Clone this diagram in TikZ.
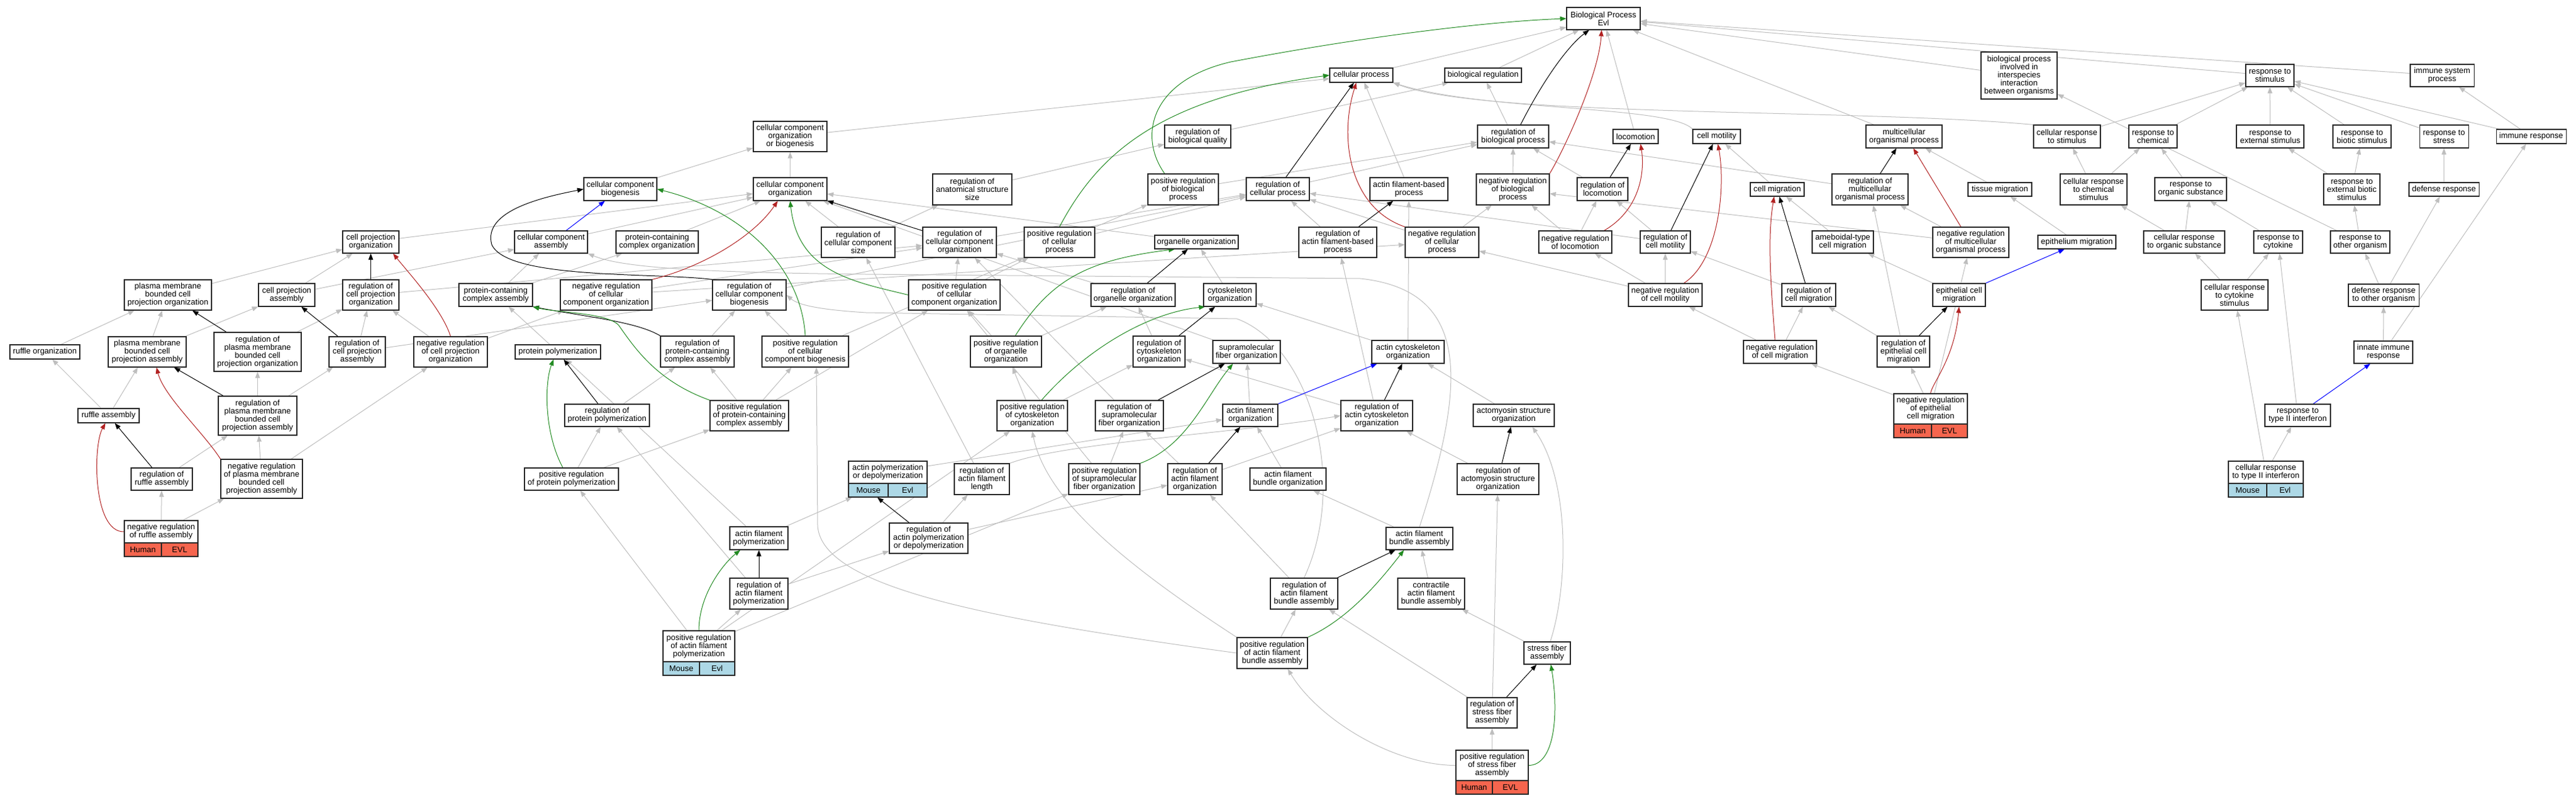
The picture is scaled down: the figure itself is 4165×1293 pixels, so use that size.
\documentclass[tikz,border=0pt]{standalone}
\usepackage{fontspec}
\setmainfont{Liberation Sans}
\usetikzlibrary{arrows.meta,calc}
\pgfdeclarelayer{edges}
\pgfsetlayers{edges,main}
\definecolor{edgegray}{RGB}{190,190,190}
\definecolor{posgreen}{RGB}{34,139,34}
\definecolor{negred}{RGB}{178,34,34}
\definecolor{partblue}{RGB}{0,0,255}
\definecolor{humanred}{RGB}{246,101,78}
\definecolor{mouseblue}{RGB}{173,216,230}
\newcommand{\gn}[6]{\node[gobox,minimum width=#4pt,minimum height=#5pt] (#1) at (#2,#3) {#6};}
\newcommand{\spcell}[6]{\node[cellbox,fill=#6,minimum width=#4pt] (#1) at (#2,#3) {#5};}
\begin{document}
\begin{tikzpicture}[x=1pt,y=-1pt,
  gobox/.style={draw=black!85,line width=1.1pt,fill=white,inner sep=1pt,align=center,font=\fontsize{13}{13}\selectfont},
  cellbox/.style={draw=black!85,line width=1.1pt,inner sep=1pt,minimum height=22pt,font=\fontsize{13}{13}\selectfont},
  isaE/.style={draw=edgegray,line width=1pt,-{Triangle[length=10pt,width=7.5pt]}},
  regE/.style={isaE,draw=black},
  posE/.style={isaE,draw=posgreen},
  negE/.style={isaE,draw=negred},
  partE/.style={isaE,draw=partblue}]
\useasboundingbox (0,0) rectangle (4165,1293);
\begin{pgfonlayer}{edges}
\fill[white] (0,0) rectangle (4165,1293);
\end{pgfonlayer}
% ---------------- nodes ----------------
\gn{cpo}{599.5}{391}{91}{36}{cell projection\\organization}
\gn{pmbcpo}{271.5}{476.5}{141}{49}{plasma membrane\\bounded cell\\projection organization}
\gn{cpa}{463.5}{476.5}{91}{37}{cell projection\\assembly}
\gn{regcpo}{599.5}{476.5}{91}{49}{regulation of\\cell projection\\organization}
\gn{ruforg}{72.5}{568.5}{113}{23}{ruffle organization}
\gn{pmbcpa}{238}{568.5}{126}{49}{plasma membrane\\bounded cell\\projection assembly}
\gn{regpmbcpo}{416.5}{568.5}{141}{63}{regulation of\\plasma membrane\\bounded cell\\projection organization}
\gn{regcpa}{577.5}{568.5}{91}{49}{regulation of\\cell projection\\assembly}
\gn{negregcpo}{728.5}{568.5}{119}{49}{negative regulation\\of cell projection\\organization}
\gn{rufasm}{175.5}{671.5}{99}{23}{ruffle assembly}
\gn{regpmbcpa}{416.5}{671.5}{127}{63}{regulation of\\plasma membrane\\bounded cell\\projection assembly}
\gn{regruf}{261.5}{774}{99}{36}{regulation of\\ruffle assembly}
\gn{negregpmbcpa}{423}{773.5}{132}{63}{negative regulation\\of plasma membrane\\bounded cell\\projection assembly}
\gn{negregruf}{260.5}{859}{119}{36}{negative regulation\\of ruffle assembly}
\spcell{negrufH}{231}{888}{60}{Human}{humanred}
\spcell{negrufE}{290.5}{888}{59}{EVL}{humanred}
\gn{ccob}{1277.5}{220.5}{119}{49}{cellular component\\organization\\or biogenesis}
\gn{ccb}{1003}{305.5}{118}{37}{cellular component\\biogenesis}
\gn{cco}{1277.5}{305.5}{119}{37}{cellular component\\organization}
\gn{cca}{891}{391}{118}{36}{cellular component\\assembly}
\gn{pcco}{1062.5}{391}{133}{36}{protein-containing\\complex organization}
\gn{regccs}{1387.5}{391.5}{119}{49}{regulation of\\cellular component\\size}
\gn{pcca}{801.5}{476.5}{119}{37}{protein-containing\\complex assembly}
\gn{negregcco}{980}{476.5}{148}{49}{negative regulation\\of cellular\\component organization}
\gn{regccb}{1211.5}{476.5}{119}{49}{regulation of\\cellular component\\biogenesis}
\gn{protpoly}{902}{568.5}{138}{23}{protein polymerization}
\gn{regpcca}{1127.5}{568}{119}{50}{regulation of\\protein-containing\\complex assembly}
\gn{posregccb}{1302}{568}{140}{50}{positive regulation\\of cellular\\component biogenesis}
\gn{regprotpoly}{981.5}{671}{137}{36}{regulation of\\protein polymerization}
\gn{posregpcca}{1211.5}{671.5}{127}{49}{positive regulation\\of protein-containing\\complex assembly}
\gn{posregprotpoly}{924}{774}{152}{36}{positive regulation\\of protein polymerization}
\gn{apd}{1435.5}{763}{127}{36}{actin polymerization\\or depolymerization}
\spcell{apdM}{1404}{792}{64}{Mouse}{mouseblue}
\spcell{apdE}{1467.5}{792}{63}{Evl}{mouseblue}
\gn{afpoly}{1227}{869.5}{94}{37}{actin filament\\polymerization}
\gn{regbq}{1936.5}{220.5}{107}{37}{regulation of\\biological quality}
\gn{regass}{1572}{306}{128}{50}{regulation of\\anatomical structure\\size}
\gn{posregbp}{1913}{306}{114}{50}{positive regulation\\of biological\\process}
\gn{regcp}{2066}{305.5}{102}{37}{regulation of\\cellular process}
\gn{regcco}{1551.5}{391.5}{119}{49}{regulation of\\cellular component\\organization}
\gn{posregcp}{1713}{391.5}{114}{49}{positive regulation\\of cellular\\process}
\gn{orgorg}{1934.5}{391}{135}{22}{organelle organization}
\gn{regafbp}{2163}{391.5}{126}{49}{regulation of\\actin filament-based\\process}
\gn{posregcco}{1543}{476.5}{148}{49}{positive regulation\\of cellular\\component organization}
\gn{regorgorg}{1832}{476.5}{136}{37}{regulation of\\organelle organization}
\gn{cytoorg}{1988.5}{476.5}{85}{37}{cytoskeleton\\organization}
\gn{posregorgorg}{1626.5}{568}{115}{50}{positive regulation\\of organelle\\organization}
\gn{regcytoorg}{1874}{568}{84}{50}{regulation of\\cytoskeleton\\organization}
\gn{supfib}{2015.5}{568.5}{109}{37}{supramolecular\\fiber organization}
\gn{posregcytoorg}{1669}{671.5}{114}{49}{positive regulation\\of cytoskeleton\\organization}
\gn{regsupfib}{1826}{671.5}{110}{49}{regulation of\\supramolecular\\fiber organization}
\gn{afo}{2021.5}{671}{89}{36}{actin filament\\organization}
\gn{regafl}{1587.5}{774}{89}{50}{regulation of\\actin filament\\length}
\gn{posregsupfib}{1785.5}{774}{115}{50}{positive regulation\\of supramolecular\\fiber organization}
\gn{regafo}{1932}{774}{88}{50}{regulation of\\actin filament\\organization}
\gn{afbo}{2082.5}{774}{123}{36}{actin filament\\bundle organization}
\gn{regapd}{1501.5}{869.5}{127}{49}{regulation of\\actin polymerization\\or depolymerization}
\gn{regafpoly}{1227}{959}{94}{50}{regulation of\\actin filament\\polymerization}
\gn{posregafpoly}{1130}{1044}{116}{50}{positive regulation\\of actin filament\\polymerization}
\spcell{pafpM}{1101.5}{1080}{59}{Mouse}{mouseblue}
\spcell{pafpE}{1159.5}{1080}{57}{Evl}{mouseblue}
\gn{regafba}{2108.5}{959}{109}{50}{regulation of\\actin filament\\bundle assembly}
\gn{contractile}{2314}{959}{108}{50}{contractile\\actin filament\\bundle assembly}
\gn{posregafba}{2057}{1055}{114}{50}{positive regulation\\of actin filament\\bundle assembly}
\gn{afba}{2295}{870}{108}{36}{actin filament\\bundle assembly}
\gn{SFA}{2501.5}{1055}{75}{36}{stress fiber\\assembly}
\gn{regSFA}{2412.5}{1151.5}{81}{49}{regulation of\\stress fiber\\assembly}
\gn{PRSFA}{2412.5}{1236.5}{117}{49}{positive regulation\\of stress fiber\\assembly}
\spcell{prsfaH}{2383.5}{1272}{59}{Human}{humanred}
\spcell{prsfaE}{2442}{1272}{58}{EVL}{humanred}
\gn{bp}{2592.5}{30}{119}{36}{Biological Process\\Evl}
\gn{cellproc}{2201}{121.5}{102}{23}{cellular process}
\gn{bioreg}{2398}{121.5}{124}{23}{biological regulation}
\gn{regbp}{2446.5}{220.5}{115}{37}{regulation of\\biological process}
\gn{loco}{2644.5}{220.5}{73}{23}{locomotion}
\gn{cellmot}{2775.5}{220.5}{77}{23}{cell motility}
\gn{afbp}{2278}{305.5}{126}{37}{actin filament-based\\process}
\gn{negregbp}{2446}{306}{118}{50}{negative regulation\\of biological\\process}
\gn{regloco}{2591}{305.5}{82}{37}{regulation of\\locomotion}
\gn{negregcp}{2331.5}{391.5}{119}{49}{negative regulation\\of cellular\\process}
\gn{negregloco}{2547}{391}{118}{36}{negative regulation\\of locomotion}
\gn{regcellmot}{2692.5}{391}{81}{36}{regulation of\\cell motility}
\gn{negregcellmot}{2692.5}{476.5}{119}{37}{negative regulation\\of cell motility}
\gn{actincyto}{2276.5}{568.5}{117}{37}{actin cytoskeleton\\organization}
\gn{regactincyto}{2226}{671.5}{116}{49}{regulation of\\actin cytoskeleton\\organization}
\gn{actomyosin}{2447.5}{671}{131}{36}{actomyosin structure\\organization}
\gn{regactomyosin}{2422}{774}{132}{50}{regulation of\\actomyosin structure\\organization}
\gn{bpinter}{3264.5}{122}{123}{76}{biological process\\involved in\\interspecies\\interaction\\between organisms}
\gn{multi}{3078.5}{220.5}{123}{37}{multicellular\\organismal process}
\gn{crs}{3342}{220.5}{108}{37}{cellular response\\to stimulus}
\gn{rchem}{3481}{220.5}{78}{37}{response to\\chemical}
\gn{cellmig}{2873.5}{306}{87}{22}{cell migration}
\gn{regmulti}{3023.5}{306}{123}{50}{regulation of\\multicellular\\organismal process}
\gn{tissuemig}{3233.5}{306}{103}{22}{tissue migration}
\gn{crcs}{3385}{306}{108}{50}{cellular response\\to chemical\\stimulus}
\gn{ros}{3542}{305.5}{116}{37}{response to\\organic substance}
\gn{ameboid}{2979.5}{391}{99}{36}{ameboidal-type\\cell migration}
\gn{negregmulti}{3186.5}{391.5}{123}{49}{negative regulation\\of multicellular\\organismal process}
\gn{epimig}{3358}{391}{126}{22}{epithelium migration}
\gn{cros}{3531.5}{391}{131}{36}{cellular response\\to organic substance}
\gn{rstim}{3670}{122}{78}{36}{response to\\stimulus}
\gn{isp}{3948.5}{122}{103}{36}{immune system\\process}
\gn{rext}{3670.5}{220.5}{109}{37}{response to\\external stimulus}
\gn{rbiotic}{3819}{220.5}{94}{37}{response to\\biotic stimulus}
\gn{rstress}{3951.5}{220.5}{79}{37}{response to\\stress}
\gn{immresp}{4092.5}{220.5}{113}{23}{immune response}
\gn{rextbiotic}{3802.5}{306}{91}{50}{response to\\external biotic\\stimulus}
\gn{defresp}{3951.5}{306}{113}{22}{defense response}
\gn{rcytokine}{3683.5}{391}{79}{36}{response to\\cytokine}
\gn{roo}{3816}{391}{96}{36}{response to\\other organism}
\gn{regcellmig}{2924.5}{476.5}{87}{37}{regulation of\\cell migration}
\gn{epicellmig}{3167.5}{476.5}{85}{37}{epithelial cell\\migration}
\gn{negregcellmig}{2878}{568.5}{118}{37}{negative regulation\\of cell migration}
\gn{regepicellmig}{3077.5}{568}{85}{50}{regulation of\\epithelial cell\\migration}
\gn{negregepicellmig}{3121.5}{660.5}{119}{49}{negative regulation\\of epithelial\\cell migration}
\spcell{nrecmH}{3092.5}{696}{61}{Human}{humanred}
\spcell{nrecmE}{3152}{696}{58}{EVL}{humanred}
\gn{crcytokine}{3613}{476.5}{108}{49}{cellular response\\to cytokine\\stimulus}
\gn{rt2ifn}{3715}{671}{106}{36}{response to\\type II interferon}
\gn{crt2ifn}{3663.5}{763}{121}{36}{cellular response\\to type II interferon}
\spcell{crtM}{3634}{792}{62}{Mouse}{mouseblue}
\spcell{crtE}{3694.5}{792}{59}{Evl}{mouseblue}
\gn{dr2oo}{3854}{477}{114}{36}{defense response\\to other organism}
\gn{innate}{3853.5}{569}{95}{36}{innate immune\\response}
% ---------------- edges ----------------
\begin{pgfonlayer}{edges}
\foreach \a/\b in {cellproc/bp, bioreg/bp, loco/bp, multi/bp, bpinter/bp, rstim/bp, isp/bp,
 ccob/cellproc, afbp/cellproc,
 regbq/bioreg, regbp/bioreg,
 regcp/regbp, posregbp/regbp, negregbp/regbp, regloco/regbp, regmulti/regbp,
 cellmig/cellmot, ccb/ccob, cco/ccob,
 cca/cco, pcco/cco, orgorg/cco, regccs/cco, cpo/cco, supfib/cco,
 regccs/regass, regass/regbq,
 pmbcpo/cpo, cpa/cpo, cpa/cca, regcpo/regcco,
 pmbcpa/pmbcpo, pmbcpa/cpa, ruforg/pmbcpo,
 regpmbcpo/regcpo, regcpa/regcpo, regcpa/regccb,
 negregcpo/regcpo, negregcpo/negregcco,
 rufasm/ruforg, rufasm/pmbcpa,
 regpmbcpa/regpmbcpo, regpmbcpa/regcpa, regruf/regpmbcpa,
 negregpmbcpa/regpmbcpa, negregpmbcpa/negregcpo,
 negregruf/regruf, negregruf/negregpmbcpa,
 pcca/cca, pcca/pcco, protpoly/pcca, regpcca/regccb,
 negregcco/regcco, negregcco/negregcp, regccb/regcp,
 posregccb/regccb, posregccb/posregcp,
 posregpcca/regpcca, posregpcca/posregccb, posregpcca/posregcco,
 regprotpoly/regpcca, posregprotpoly/regprotpoly, posregprotpoly/posregpcca,
 afpoly/protpoly, afpoly/apdM, apd/afo,
 regafpoly/regapd, regafpoly/regprotpoly,
 posregafpoly/regafpoly, posregafpoly/posregprotpoly, posregafpoly/posregsupfib, posregafpoly/posregcytoorg,
 regapd/regafl, regapd/regafo, regafl/regccs,
 regafo/regactincyto, regafo/regsupfib,
 posregsupfib/regsupfib, posregsupfib/posregcco, regsupfib/regcco,
 posregcytoorg/regcytoorg, posregcytoorg/posregorgorg, regcytoorg/regorgorg,
 posregorgorg/regorgorg, posregorgorg/posregcco, regorgorg/regcco,
 cytoorg/orgorg, afo/supfib, afbo/afo,
 actincyto/cytoorg, actincyto/afbp,
 regactincyto/regafbp, regactincyto/regcytoorg,
 actomyosin/actincyto, regactomyosin/regactincyto,
 afba/afbo, regafba/regafo, posregafba/regafba,
 contractile/afba, SFA/contractile,
 regSFA/regactomyosin, regSFA/regafba, PRSFA/regSFA,
 regafbp/regcp, negregcp/regcp, negregcp/negregbp,
 posregcp/regcp, posregcp/posregbp, regcco/regcp,
 posregcco/regcco, posregcco/posregcp,
 negregloco/regloco, negregloco/negregbp,
 regcellmot/regloco, regcellmot/regcp,
 negregcellmot/regcellmot, negregcellmot/negregloco, negregcellmot/negregcp,
 regcellmig/regcellmot, negregcellmig/regcellmig, negregcellmig/negregcellmot,
 ameboid/cellmig, epicellmig/ameboid,
 regepicellmig/regcellmig, regepicellmig/regmulti,
 negregepicellmig/regepicellmig, negregepicellmig/negregcellmig, negregepicellmig/negregmulti,
 epimig/tissuemig, tissuemig/multi,
 negregmulti/regmulti, negregmulti/negregbp,
 crs/rstim, crcs/crs, crcs/rchem, rchem/rstim, ros/rchem, cros/ros, cros/crcs,
 rcytokine/ros, crcytokine/cros, crcytokine/rcytokine, rt2ifn/rcytokine,
 crt2ifn/rt2ifn, crt2ifn/crcytokine,
 rext/rstim, rbiotic/rstim, rstress/rstim, immresp/rstim, immresp/isp,
 rextbiotic/rext, rextbiotic/rbiotic, roo/rextbiotic, roo/bpinter,
 defresp/rstress, dr2oo/defresp, dr2oo/roo, innate/immresp, innate/dr2oo}
 {\draw[isaE] (\a) -- (\b);}
% long gray curves
\draw[isaE] (crs.north west) .. controls (3000,175) and (2400,190) .. (cellproc.south east);
\draw[isaE] (cellmot.north west) .. controls (2700,170) and (2400,180) .. (cellproc.south east);
\draw[isaE] (afba.north) .. controls (2370,620) and (2380,470) .. (2200,450) -- (1400,443) .. controls (1100,440) and (1000,430) .. (cca.south east);
\draw[isaE] (regafba.north) .. controls (2180,780) and (2120,560) .. (2000,515) -- (1400,505) .. controls (1320,500) and (1290,492) .. (regccb.east);
\draw[isaE] (posregafba.west) .. controls (1600,1000) and (1330,950) .. (1322,850) -- ($(posregccb.south)+(18,0)$);
\draw[isaE] (posregafba.north west) .. controls (1800,900) and (1690,800) .. (posregcytoorg.south);
\draw[isaE] (regafl.north east) .. controls (1720,715) and (2000,700) .. (regactincyto.west);
\draw[isaE] ($(SFA.north)+(5,0)$) .. controls (2535,950) and (2540,780) .. ($(actomyosin.south)+(30,0)$);
\draw[isaE] (PRSFA.west) .. controls (2250,1236) and (2130,1160) .. ($(posregafba.south)+(25,0)$);
% black (regulates)
\foreach \a/\b in {regloco/loco, regcellmot/cellmot, regcco/cco, regcpo/cpo, regpmbcpo/pmbcpo,
 regcpa/cpa, regpmbcpa/pmbcpa, regruf/rufasm, regprotpoly/protpoly, regafpoly/afpoly, regapd/apdM,
 regafo/afo, regsupfib/supfib, regcytoorg/cytoorg, regorgorg/orgorg, regactincyto/actincyto,
 regactomyosin/actomyosin, regafba/afba, regSFA/SFA, regafbp/afbp, regcellmig/cellmig,
 regepicellmig/epicellmig, regmulti/multi}
 {\draw[regE] (\a) -- (\b);}
\draw[regE] ($(regbp.north)+(12,0)$) .. controls (2500,120) and (2540,70) .. ($(bp.south)+(-23,0)$);
\draw[regE] ($(regcp.north)+(13,0)$) -- ($(cellproc.south)+(-12,0)$);
\draw[regE] (regccb.north west) .. controls (1060,440) and (820,452) .. (795,395) .. controls (780,340) and (880,318) .. (ccb.west);
\draw[regE] (regpcca.north west) .. controls (1030,520) and (950,512) .. (pcca.south east);
% green (positively regulates)
\draw[posE] (posregpcca.north west) .. controls (1060,615) and (1025,560) .. (1000,525) .. controls (980,505) and (900,505) .. (pcca.south east);
\draw[posE] (posregccb.north) .. controls (1295,430) and (1200,340) .. (ccb.east);
\draw[posE] (posregcco.west) .. controls (1380,455) and (1290,440) .. (cco.south);
\draw[posE] ($(posregprotpoly.north)+(-14,0)$) .. controls (880,700) and (880,620) .. ($(protpoly.south)+(-7,0)$);
\draw[posE] (posregafpoly.north) .. controls (1130,960) and (1170,910) .. ($(afpoly.south)+(-30,0)$);
\draw[posE] (posregcp.north) .. controls (1770,260) and (1860,160) .. (cellproc.west);
\draw[posE] ($(posregbp.north)+(-30,0)$) .. controls (1840,220) and (1860,130) .. (1990,100) .. controls (2200,60) and (2400,35) .. (bp.west);
\draw[posE] ($(posregorgorg.north)+(15,0)$) .. controls (1700,450) and (1760,420) .. ($(orgorg.south)+(-35,0)$);
\draw[posE] ($(posregcytoorg.north)+(15,0)$) .. controls (1760,560) and (1860,505) .. ($(cytoorg.south)+(-40,0)$);
\draw[posE] (posregsupfib.north east) .. controls (1920,720) and (1950,640) .. ($(supfib.south)+(-22,0)$);
\draw[posE] (posregafba.north east) .. controls (2180,1000) and (2230,940) .. ($(afba.south)+(-25,0)$);
\draw[posE] (PRSFA.east) .. controls (2515,1236) and (2520,1150) .. ($(SFA.south)+(6,0)$);
% red (negatively regulates)
\draw[negE] (negregcco.north east) .. controls (1140,430) and (1220,380) .. ($(cco.south)+(-20,0)$);
\draw[negE] (negregcpo.north) .. controls (715,500) and (660,440) .. ($(cpo.south east)+(-10,0)$);
\draw[negE] (negregpmbcpa.north west) .. controls (330,700) and (265,640) .. ($(pmbcpa.south)+(15,0)$);
\draw[negE] (negregruf.west) .. controls (150,860) and (150,720) .. ($(rufasm.south)+(-5,0)$);
\draw[negE] (negregbp.north east) .. controls (2530,240) and (2585,120) .. ($(bp.south)+(-3,0)$);
\draw[negE] (negregcp.north west) .. controls (2180,335) and (2165,220) .. ($(cellproc.south)+(-8,0)$);
\draw[negE] ($(negregloco.north east)+(-13,0)$) .. controls (2650,340) and (2660,280) .. ($(loco.south)+(8,0)$);
\draw[negE] ($(negregcellmot.north east)+(-30,0)$) .. controls (2780,420) and (2790,300) .. ($(cellmot.south)+(2,0)$);
\draw[negE] ($(negregcellmig.north)+(-8,0)$) .. controls (2862,450) and (2858,380) .. ($(cellmig.south)+(-5,0)$);
\draw[negE] ($(negregmulti.north)+(-16,0)$) -- ($(multi.south)+(15,0)$);
\draw[negE] (negregepicellmig.north) .. controls (3123,620) and (3160,580) .. (epicellmig.south);
% blue (part of)
\draw[partE] (cca) -- (ccb);
\draw[partE] (afo.north east) -- ($(actincyto.south)+(-50,0)$);
\draw[partE] (epicellmig.north east) -- ($(epimig.south)+(-20,0)$);
\draw[partE] ($(rt2ifn.north)+(25,0)$) -- ($(innate.south)+(-21,0)$);
\end{pgfonlayer}
\end{tikzpicture}
\end{document}
